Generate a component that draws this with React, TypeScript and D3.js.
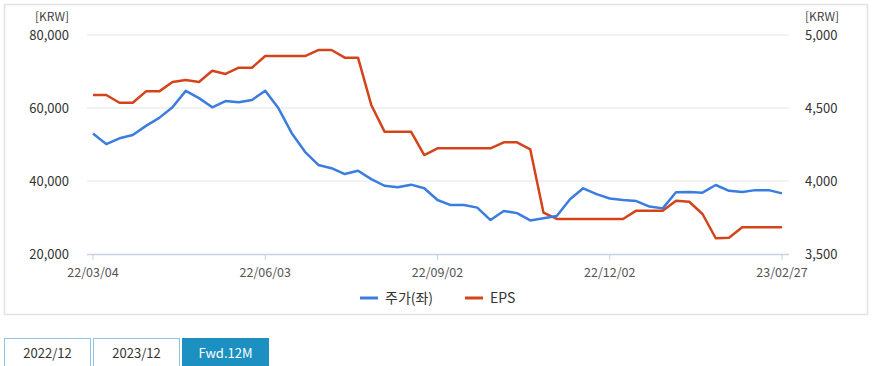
import React from "react";
import * as d3 from "d3";

const tickLabels = ["22/03/04", "22/06/03", "22/09/02", "22/12/02", "23/02/27"];
const tickIndex = [0, 13, 26, 39, 52];

const price = [
  53000, 50100, 51700, 52600, 55100, 57300, 60200, 64700, 62700, 60200,
  61900, 61600, 62200, 64700, 59900, 53100, 48000, 44400, 43500, 41900,
  42800, 40500, 38700, 38300, 39000, 38000, 34800, 33400, 33400, 32700,
  29300, 31800, 31200, 29200, 29800, 30400, 35000, 38000, 36400, 35200,
  34800, 34500, 33000, 32500, 36900, 37000, 36800, 38900, 37300, 37000,
  37500, 37500, 36600,
];

const eps = [
  4589, 4589, 4536, 4536, 4614, 4614, 4678, 4692, 4678, 4755,
  4733, 4776, 4776, 4856, 4856, 4856, 4856, 4897, 4897, 4845,
  4845, 4521, 4338, 4338, 4338, 4178, 4224, 4224, 4224, 4224,
  4224, 4265, 4265, 4217, 3783, 3740, 3740, 3740, 3740, 3740,
  3740, 3797, 3797, 3797, 3865, 3858, 3774, 3608, 3612, 3683,
  3683, 3683, 3683,
];

const leftTicks = [20000, 40000, 60000, 80000];
const rightTicks = [3500, 4000, 4500, 5000];
const buttons = ["2022/12", "2023/12", "Fwd.12M"];
const seriesNames = ["주가(좌)", "EPS"];

const BLUE = "#3a7ddf";
const RED = "#d4441b";
const FONT = "'Noto Sans CJK KR', 'Noto Sans', sans-serif";

export default function App() {
  const W = 874;
  const H = 366;
  const idx = d3.range(price.length);
  const x = d3.scaleLinear().domain([0, price.length - 1]).range([93, 782]);
  const yL = d3.scaleLinear().domain([20000, 80000]).range([254, 35]);
  const yR = d3.scaleLinear().domain([3500, 5000]).range([254, 35]);
  const fmt = d3.format(",");

  const priceLine = d3
    .line<number>()
    .x((i) => x(i))
    .y((i) => yL(price[i]));
  const epsLine = d3
    .line<number>()
    .x((i) => x(i))
    .y((i) => yR(eps[i]));

  const gridX0 = 87;
  const gridX1 = 789;

  return (
    <div style={{ position: "absolute", left: 0, top: 0 }}>
      <svg width={W} height={H} style={{ display: "block", fontFamily: FONT }}>
        <rect x={0} y={0} width={W} height={H} fill="#fff" />
        <rect x={4.5} y={4.5} width={863} height={310} fill="#fff" stroke="#e3e3e3" strokeWidth={1.5} />

        {/* gridlines */}
        {leftTicks.slice(1).map((t) => (
          <line key={t} x1={gridX0} x2={gridX1} y1={yL(t)} y2={yL(t)} stroke="#e4e4e4" strokeWidth={1} />
        ))}
        <line x1={gridX0} x2={gridX1} y1={yL(20000) + 0.5} y2={yL(20000) + 0.5} stroke="#c5d3e3" strokeWidth={1.5} />
        {tickIndex.map((ti, k) => (
          <g key={ti}>
            <line x1={x(ti)} x2={x(ti)} y1={yL(20000)} y2={yL(20000) + 6} stroke="#c5d3e3" strokeWidth={1} />
            <text x={x(ti)} y={277} textAnchor="middle" fontSize={12.5} fill="#555">
              {tickLabels[k]}
            </text>
          </g>
        ))}

        {/* left axis */}
        <text x={69} y={21} textAnchor="end" fontSize={12} fill="#444">[KRW]</text>
        {leftTicks.map((t) => (
          <text key={t} x={69} y={yL(t) + 4.5} textAnchor="end" fontSize={13} fill="#333">
            {fmt(t)}
          </text>
        ))}
        {/* right axis */}
        <text x={805} y={21} textAnchor="start" fontSize={12} fill="#444">[KRW]</text>
        {rightTicks.map((t) => (
          <text key={t} x={805} y={yR(t) + 4.5} textAnchor="start" fontSize={13} fill="#333">
            {fmt(t)}
          </text>
        ))}

        {/* lines */}
        <path d={epsLine(idx) || ""} fill="none" stroke={RED} strokeWidth={2.5} strokeLinejoin="round" />
        <path d={priceLine(idx) || ""} fill="none" stroke={BLUE} strokeWidth={2.5} strokeLinejoin="round" />

        {/* legend */}
        <line x1={360} x2={378} y1={298} y2={298} stroke={BLUE} strokeWidth={3} />
        <text x={385} y={303} fontSize={14} fill="#333">{seriesNames[0]}</text>
        <line x1={465} x2={483} y1={298} y2={298} stroke={RED} strokeWidth={3} />
        <text x={490} y={303} fontSize={14} fill="#333">{seriesNames[1]}</text>

        {/* buttons */}
        {buttons.map((b, k) => {
          const bx = 4.5 + k * 89;
          const active = k === 2;
          return (
            <g key={b}>
              <rect x={bx} y={338.5} width={86} height={32} fill={active ? "#1b90c1" : "#fff"} stroke={active ? "#1b90c1" : "#8cc3e0"} strokeWidth={1} />
              <text x={bx + 43} y={357.5} textAnchor="middle" fontSize={13} fill={active ? "#fff" : "#333"}>
                {b}
              </text>
            </g>
          );
        })}
      </svg>
    </div>
  );
}
